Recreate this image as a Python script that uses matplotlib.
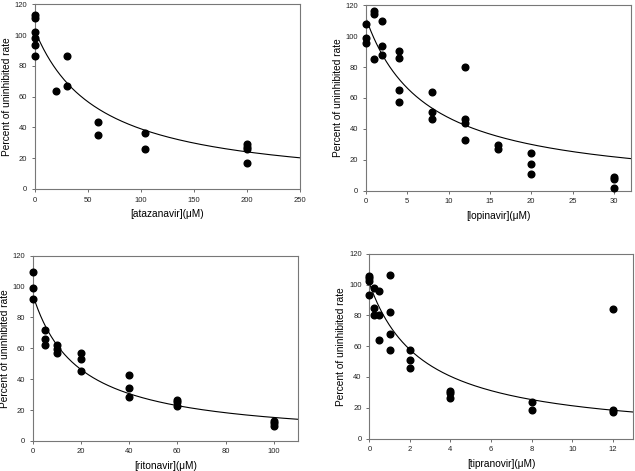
import numpy as np
import matplotlib
matplotlib.use("Agg")
import matplotlib.pyplot as plt

plt.rcParams['font.family'] = ['Liberation Sans', 'DejaVu Sans']

# ---- atazanavir ----
ata_x = [0, 0, 0, 0, 0, 0, 20, 30, 30, 60, 60, 104, 104, 200, 200, 200, 200]
ata_y = [112.9, 111.3, 101.8, 98.3, 93.8, 86.2, 63.7, 86.6, 66.9, 43.5, 35.3,
         36.6, 25.8, 29.0, 27.3, 25.8, 16.9]
ata_fit = (103.0, 61.0)  # (top, IC50)

# ---- lopinavir ----
lop_x = [0, 0, 0, 1, 1, 1, 2, 2, 2, 4, 4, 4, 4, 8, 8, 8, 12, 12, 12, 12,
         16, 16, 20, 20, 20, 30, 30, 30]
lop_y = [107.7, 98.6, 95.4, 116.3, 114.4, 85.5, 109.6, 93.5, 87.6, 90.2, 86.1,
         65.0, 57.4, 63.7, 50.7, 46.4, 80.3, 46.4, 44.0, 32.6, 29.6, 27.0,
         24.4, 17.3, 11.0, 9.1, 7.3, 1.9]
lop_fit = (112.0, 7.3)

# ---- ritonavir ----
rit_x = [0, 0, 0, 5, 5, 5, 10, 10, 10, 20, 20, 20, 40, 40, 40, 60, 60, 60,
         100, 100, 100]
rit_y = [109.6, 99.3, 91.9, 71.9, 66.3, 62.4, 61.9, 59.8, 57.2, 56.8, 53.1,
         45.3, 42.9, 34.5, 28.2, 26.8, 25.3, 22.9, 12.7, 11.4, 9.9]
rit_fit = (95.0, 19.0)

# ---- tipranovir ----
tip_x = [0, 0, 0, 0, 0.25, 0.25, 0.25, 0.5, 0.5, 0.5, 1, 1, 1, 1, 2, 2, 2,
         4, 4, 4, 8, 8, 12, 12, 12]
tip_y = [105.5, 104.4, 102.5, 93.1, 97.5, 84.5, 80.1, 95.7, 80.1, 64.3, 106.4,
         82.1, 67.6, 57.8, 57.6, 50.7, 45.9, 31.0, 29.7, 26.6, 24.0, 18.2,
         84.3, 18.4, 17.5]
tip_fit = (101.0, 2.67)

panels = [
    dict(x=ata_x, y=ata_y, fit=ata_fit, xlim=250, xticks=[0, 50, 100, 150, 200, 250],
         xlabel='[atazanavir](\u03bcM)', rect=[0.055, 0.599, 0.417, 0.392]),
    dict(x=lop_x, y=lop_y, fit=lop_fit, xlim=32, xticks=[0, 5, 10, 15, 20, 25, 30],
         xlabel='[lopinavir](\u03bcM)', rect=[0.576, 0.595, 0.417, 0.394]),
    dict(x=rit_x, y=rit_y, fit=rit_fit, xlim=110, xticks=[0, 20, 40, 60, 80, 100],
         xlabel='[ritonavir](\u03bcM)', rect=[0.0515, 0.064, 0.4175, 0.393]),
    dict(x=tip_x, y=tip_y, fit=tip_fit, xlim=13, xticks=[0, 2, 4, 6, 8, 10, 12],
         xlabel='[tipranovir](\u03bcM)', rect=[0.5816, 0.069, 0.4154, 0.392]),
]

fig = plt.figure(figsize=(6.35, 4.71), dpi=100)
for p in panels:
    ax = fig.add_axes(p['rect'])
    top, k = p['fit']
    xs = np.linspace(0, p['xlim'], 400)
    ax.plot(xs, top / (1 + xs / k), color='black', lw=0.8, zorder=2)
    ax.plot(p['x'], p['y'], 'o', color='black', markersize=4.8, zorder=3,
            clip_on=False)
    ax.set_xlim(0, p['xlim'])
    ax.set_ylim(0, 120)
    ax.set_xticks(p['xticks'])
    ax.set_yticks([0, 20, 40, 60, 80, 100, 120])
    ax.tick_params(direction='out', length=2, width=0.6, color='#555555',
                   labelsize=5.5, labelcolor='#222222', pad=3.5)
    for s in ax.spines.values():
        s.set_color('#777777')
        s.set_linewidth(0.8)
    ax.set_xlabel(p['xlabel'], fontsize=7.3, labelpad=4)
    ax.set_ylabel('Percent of uninhibited rate', fontsize=7.3, labelpad=2)

fig.savefig('out.png', dpi=100)
